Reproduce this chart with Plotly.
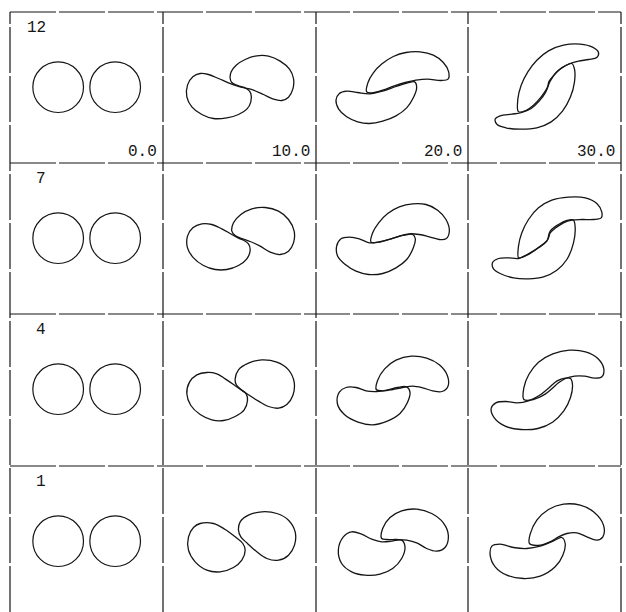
import plotly.graph_objects as go

# Run labels (top to bottom) and output times (left to right)
runs = ["12", "7", "4", "1"]
times = ["0.0", "10.0", "20.0", "30.0"]

# Initial vortex patches at t = 0 (domain units, patch radius = 76)
patch_x = [-85, 86]
patch_y = [1, 1]
patch_r = [76, 76]

# Boundary vertices of the two deformed patches (upper lobe A, lower lobe B)
R12_T10_A = [(-28, 27), (-25, 47), (-10, 67), (17, 84), (52, 95), (87, 94), (122, 79), (150, 55), (162, 27),
             (160, -5), (147, -29), (127, -39), (102, -35), (72, -21), (42, -8), (17, -1), (-8, 7), (-23, 15)]
R12_T10_B = [(24, -5), (34, -18), (34, -43), (22, -65), (-3, -81), (-38, -91), (-78, -93), (-113, -81), (-143, -58),
             (-158, -28), (-156, 7), (-140, 32), (-118, 42), (-93, 39), (-63, 27), (-33, 14), (-3, 3)]
R12_T20_A = [(-76, -13), (-72, 15), (-56, 44), (-30, 71), (4, 93), (42, 105), (84, 107), (124, 97), (154, 75),
             (170, 47), (168, 25), (147, 21), (107, 25), (72, 22), (40, 15), (7, 5), (-28, -8), (-60, -16)]
R12_T20_B = [(68, 17), (74, -1), (64, -31), (44, -61), (12, -85), (-28, -101), (-68, -108), (-103, -103), (-136, -88),
             (-160, -65), (-168, -38), (-158, -18), (-136, -11), (-103, -15), (-68, -19), (-28, -11), (12, 3), (47, 14)]
R12_T30_A = [(-78, -73), (-80, -35), (-70, 7), (-50, 47), (-23, 82), (12, 110), (57, 127), (107, 130), (144, 121),
             (162, 105), (157, 90), (132, 84), (102, 79), (77, 72), (52, 59), (30, 39), (14, 19), (8, -1), (-10, -28),
             (-33, -53), (-56, -69)]
R12_T30_B = [(-148, -95), (-133, -85), (-98, -80), (-68, -75), (-40, -63), (-16, -41), (4, -13), (17, 19), (37, 47),
             (62, 65), (82, 72), (90, 55), (90, 17), (78, -28), (54, -71), (20, -103), (-23, -121), (-73, -125),
             (-116, -121), (-142, -111)]

R7_T10_A = [(-23, 22), (-18, 47), (4, 72), (37, 89), (77, 93), (117, 82), (147, 57), (164, 22), (162, -13),
            (147, -38), (122, -48), (92, -41), (62, -23), (32, -9), (7, 0), (-13, 9)]
R7_T10_B = [(12, -5), (27, -16), (32, -35), (22, -61), (-3, -81), (-38, -93), (-73, -93), (-108, -81), (-138, -58),
            (-156, -28), (-156, 7), (-140, 32), (-113, 44), (-83, 42), (-53, 29), (-23, 12), (-3, 1)]
R7_T20_A = [(-63, -11), (-58, 17), (-40, 47), (-13, 75), (22, 95), (62, 104), (102, 102), (137, 85), (162, 57),
            (172, 22), (162, -1), (142, -3), (112, 5), (82, 12), (52, 14), (22, 7), (-8, -3), (-38, -11)]
R7_T20_B = [(62, 12), (70, -1), (64, -28), (44, -63), (12, -88), (-28, -105), (-70, -108), (-108, -98), (-140, -78),
            (-163, -53), (-166, -23), (-153, -1), (-128, 4), (-98, -1), (-68, -13), (-33, -9), (7, 2), (37, 10)]
R7_T30_A = [(-78, -58), (-78, -23), (-68, 17), (-48, 57), (-18, 92), (22, 115), (72, 124), (122, 122), (157, 105),
            (172, 79), (170, 62), (147, 57), (112, 57), (82, 55), (57, 47), (34, 32), (17, 17), (10, -3), (-13, -23),
            (-43, -43), (-68, -56)]
R7_T30_B = [(-156, -73), (-138, -60), (-108, -58), (-78, -60), (-48, -48), (-18, -28), (7, -8), (17, 22), (42, 42),
            (67, 54), (87, 55), (92, 32), (87, -13), (67, -63), (37, -95), (-3, -115), (-48, -121), (-93, -118),
            (-133, -105), (-153, -91)]

R4_T10_A = [(-10, 15), (-13, 32), (-3, 59), (27, 79), (67, 89), (112, 82), (147, 59), (164, 22), (160, -18),
            (142, -45), (117, -56), (87, -51), (57, -35), (27, -16), (2, 2)]
R4_T10_B = [(20, -13), (24, -33), (14, -61), (-13, -81), (-48, -93), (-83, -91), (-118, -75), (-146, -48),
            (-158, -13), (-150, 22), (-128, 44), (-98, 51), (-68, 47), (-43, 32), (-18, 15), (4, -1)]
R4_T20_A = [(-47, 0), (-43, 28), (-22, 62), (12, 88), (58, 100), (104, 94), (142, 74), (166, 42), (168, 10),
            (150, -6), (122, -4), (92, 5), (62, 10), (32, 6), (2, 0), (-25, -4)]
R4_T20_B = [(44, 8), (54, -8), (46, -40), (24, -72), (-14, -95), (-58, -106), (-102, -98), (-142, -76), (-164, -42),
            (-158, -8), (-138, 6), (-108, 6), (-78, -4), (-46, -6), (-16, -2), (16, 6)]
R4_T30_A = [(-62, -30), (-62, 5), (-47, 45), (-18, 82), (25, 107), (75, 118), (123, 113), (160, 93), (178, 62),
            (172, 38), (150, 34), (120, 40), (90, 40), (63, 33), (42, 20), (22, 2), (2, -14), (-22, -26), (-42, -32)]
R4_T30_B = [(-160, -57), (-146, -40), (-116, -36), (-82, -40), (-48, -34), (-16, -18), (12, 4), (38, 26), (62, 34),
            (78, 33), (84, 14), (78, -24), (58, -64), (24, -98), (-20, -117), (-70, -120), (-118, -110), (-150, -86)]

R1_T10_A = [(-3, 34), (2, 59), (27, 79), (67, 89), (112, 84), (147, 64), (167, 29), (165, -11), (147, -41),
            (117, -56), (82, -51), (52, -31), (24, -6), (4, 14)]
R1_T10_B = [(10, -6), (17, -26), (7, -56), (-18, -78), (-58, -91), (-98, -86), (-133, -61), (-153, -26),
            (-153, 14), (-138, 42), (-118, 54), (-78, 54), (-43, 36), (-13, 14)]
R1_T20_A = [(-31, 9), (-28, 39), (-6, 72), (29, 92), (74, 97), (119, 84), (154, 56), (169, 19), (159, -18),
            (134, -29), (104, -21), (74, -4), (44, 4), (14, 6), (-16, 6)]
R1_T20_B = [(29, 4), (39, -16), (29, -51), (2, -81), (-36, -98), (-81, -101), (-121, -91), (-151, -66), (-161, -26),
            (-146, 14), (-121, 29), (-91, 22), (-61, 7), (-31, -1), (-1, 1)]
R1_T30_A = [(-45, -6), (-43, 22), (-23, 64), (12, 96), (57, 112), (107, 109), (147, 89), (177, 49), (175, 14),
            (157, 4), (127, 14), (97, 26), (67, 24), (42, 14), (17, -1), (-13, -11)]
R1_T30_B = [(52, 12), (62, -6), (55, -41), (32, -76), (-13, -104), (-63, -111), (-113, -101), (-148, -76),
            (-163, -41), (-158, -14), (-133, -8), (-93, -18), (-53, -21), (-13, -14), (27, 2)]

contours = {
    ("12", "10.0"): [R12_T10_A, R12_T10_B],
    ("12", "20.0"): [R12_T20_A, R12_T20_B],
    ("12", "30.0"): [R12_T30_A, R12_T30_B],
    ("7", "10.0"): [R7_T10_A, R7_T10_B],
    ("7", "20.0"): [R7_T20_A, R7_T20_B],
    ("7", "30.0"): [R7_T30_A, R7_T30_B],
    ("4", "10.0"): [R4_T10_A, R4_T10_B],
    ("4", "20.0"): [R4_T20_A, R4_T20_B],
    ("4", "30.0"): [R4_T30_A, R4_T30_B],
    ("1", "10.0"): [R1_T10_A, R1_T10_B],
    ("1", "20.0"): [R1_T20_A, R1_T20_B],
    ("1", "30.0"): [R1_T30_A, R1_T30_B],
}

# ---- page geometry (pixels) ----
W, H = 626, 612
ML, MR, MT, MB = 10, 5, 12, 0
col_px = [10, 163, 316, 468, 621]
row_px = [12, 163, 314, 466, 612]
full_row = 151          # nominal panel height; the last row is clipped by the page
UNITS_PER_PX = 3.0
PW, PH = W - ML - MR, H - MT - MB


def paper_x(px):
    return (px - ML) / PW


def paper_y(py):
    return (H - MB - py) / PH


INK = "#151515"
FONT = "Liberation Mono"

fig = go.Figure()
layout = dict(
    width=W, height=H,
    margin=dict(l=ML, r=MR, t=MT, b=MB),
    paper_bgcolor="white", plot_bgcolor="white",
    showlegend=False,
)
shapes, annotations = [], []

for r, run in enumerate(runs):
    for c, t in enumerate(times):
        k = r * 4 + c + 1
        sx = "" if k == 1 else str(k)
        xa, ya = "xaxis" + sx, "yaxis" + sx
        xr, yr = "x" + sx, "y" + sx

        half_w = (col_px[c + 1] - col_px[c]) * UNITS_PER_PX / 2
        top = full_row * UNITS_PER_PX / 2
        bottom = top - (row_px[r + 1] - row_px[r]) * UNITS_PER_PX
        layout[xa] = dict(domain=[paper_x(col_px[c]), paper_x(col_px[c + 1])],
                          range=[-half_w, half_w], visible=False, fixedrange=True, anchor=yr)
        layout[ya] = dict(domain=[paper_y(row_px[r + 1]), paper_y(row_px[r])],
                          range=[bottom, top], visible=False, fixedrange=True, anchor=xr)

        if c == 0:
            for cx, cy, rad in zip(patch_x, patch_y, patch_r):
                shapes.append(dict(type="circle", xref=xr, yref=yr,
                                   x0=cx - rad, x1=cx + rad, y0=cy - rad, y1=cy + rad,
                                   line=dict(color=INK, width=1.2)))
            # empty trace so the axis pair of the t = 0 panel is created
            fig.add_trace(go.Scatter(x=[None], y=[None], xaxis=xr, yaxis=yr, hoverinfo="skip"))
        else:
            for lobe in contours[(run, t)]:
                xs = [p[0] for p in lobe] + [lobe[0][0]]
                ys = [p[1] for p in lobe] + [lobe[0][1]]
                fig.add_trace(go.Scatter(x=xs, y=ys, mode="lines", xaxis=xr, yaxis=yr,
                                         line=dict(color=INK, width=1.3, shape="spline", smoothing=1.0),
                                         hoverinfo="skip"))

    # run label at the top-left of each row
    annotations.append(dict(text=run, xref="paper", yref="paper",
                            x=paper_x(48), y=paper_y(row_px[r] + 16),
                            xanchor="right", yanchor="middle", showarrow=False,
                            font=dict(family=FONT, size=16, color=INK)))

# time stamps along the bottom of the top row
for c, t in enumerate(times):
    annotations.append(dict(text=t, xref="paper", yref="paper",
                            x=paper_x(col_px[c + 1] - 4), y=paper_y(row_px[0] + 139.5),
                            xanchor="right", yanchor="middle", showarrow=False,
                            font=dict(family=FONT, size=16, color=INK)))

# panel frame
frame = dict(color=INK, width=1.2, dash="46px,3px")
for px in col_px:
    shapes.append(dict(type="line", xref="paper", yref="paper",
                       x0=paper_x(px), x1=paper_x(px), y0=0, y1=1, line=frame))
for py in row_px[:-1]:
    shapes.append(dict(type="line", xref="paper", yref="paper",
                       x0=0, x1=1, y0=paper_y(py), y1=paper_y(py), line=frame))

layout["shapes"] = shapes
layout["annotations"] = annotations
fig.update_layout(**layout)
fig.write_html("out.html")
